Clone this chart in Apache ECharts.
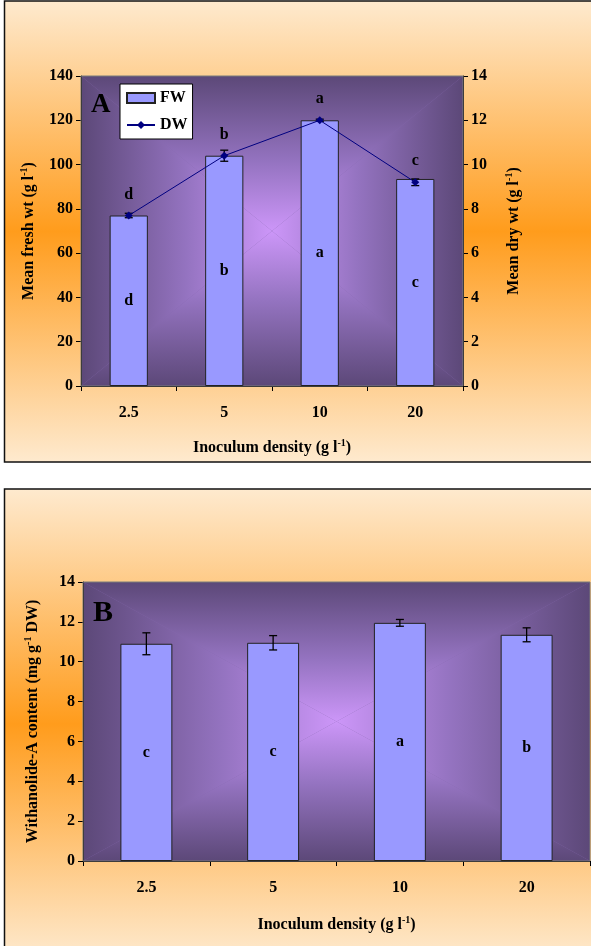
<!DOCTYPE html>
<html>
<head>
<meta charset="utf-8">
<script src="https://cdn.jsdelivr.net/npm/echarts@6/dist/echarts.min.js"></script>
<style>html,body{margin:0;padding:0;background:#fff;}#c{width:591px;height:946px;}</style>
</head>
<body>
<div id="c"></div>
<script>
// ---- data ----
const categories = ['2.5', '5', '10', '20'];
const fwValues = [77, 104, 120, 93.5];
const fwLetters = ['d', 'b', 'a', 'c'];
const dwValues = [7.7, 10.4, 12.0, 9.2];
const dwErrors = [0.1, 0.25, 0.05, 0.15];
const dwLetters = ['d', 'b', 'a', 'c'];
const withaValues = [10.9, 10.95, 11.95, 11.35];
const withaErrors = [0.55, 0.36, 0.17, 0.35];
const withaLetters = ['c', 'c', 'a', 'b'];
const fwAxis = { min: 0, max: 140, interval: 20 };
const dwAxis = { min: 0, max: 14, interval: 2 };
const withaAxis = { min: 0, max: 14, interval: 2 };

// ---- layout / style ----
const FONT = "'Liberation Serif', 'Times New Roman', serif";
const gA = { left: 81, top: 76, width: 382, height: 310 };
const gB = { left: 83, top: 582, width: 507, height: 279 };
const edgeC = '#5c4878', midC = '#9473c0', centerC = '#cc96f8';
const orangeLight = '#feeacf', orangeMid = '#ff9c1c';

function lg(x0, y0, x2, y2) {
  return { type: 'linear', x: x0, y: y0, x2: x2, y2: y2, colorStops: [
    { offset: 0, color: edgeC }, { offset: 0.55, color: midC }, { offset: 1, color: centerC }] };
}
function plotBg(g) {
  const x0 = g.left, y0 = g.top, x1 = g.left + g.width, y1 = g.top + g.height;
  const cx = (x0 + x1) / 2, cy = (y0 + y1) / 2;
  const base = { type: 'rect', z: -9, silent: true, shape: { x: x0, y: y0, width: g.width, height: g.height }, style: { fill: '#8468ad' } };
  const tri = (pts, grad) => ({ type: 'polygon', z: -8, silent: true, shape: { points: pts }, style: { fill: grad } });
  return [base,
    tri([[x0, y0], [x1, y0], [cx, cy]], lg(0, 0, 0, 1)),
    tri([[x0, y1], [x1, y1], [cx, cy]], lg(0, 1, 0, 0)),
    tri([[x0, y0], [x0, y1], [cx, cy]], lg(0, 0, 1, 0)),
    tri([[x1, y0], [x1, y1], [cx, cy]], lg(1, 0, 0, 0))
  ];
}
function panel(y, h) {
  return { type: 'rect', z: -10, silent: true, shape: { x: 4.5, y: y, width: 620, height: h },
    style: { stroke: '#111', lineWidth: 1.5,
      fill: { type: 'linear', x: 0, y: 0, x2: 0, y2: 1, colorStops: [
        { offset: 0, color: orangeLight }, { offset: 0.5, color: orangeMid }, { offset: 1, color: orangeLight }] } } };
}

const FS = 16;
const txt = { fontFamily: FONT, fontWeight: 'bold', fontSize: FS, color: '#000' };
const rich = {
  a: { fontFamily: FONT, fontWeight: 'bold', fontSize: FS, color: '#000' },
  s: { fontFamily: FONT, fontWeight: 'bold', fontSize: 10, color: '#000', padding: [0, 0, 9, 0] }
};
function sup(pre, s, post) { return '{a|' + pre + '}{s|' + s + '}{a|' + post + '}'; }

function errRender(params, api) {
  const x = api.value(0);
  const lo = api.coord([x, api.value(1)]);
  const hi = api.coord([x, api.value(2)]);
  const w = 4;
  const st = { stroke: '#000', lineWidth: 1.3 };
  return { type: 'group', children: [
    { type: 'line', shape: { x1: lo[0], y1: lo[1], x2: hi[0], y2: hi[1] }, style: st },
    { type: 'line', shape: { x1: lo[0] - w, y1: lo[1], x2: lo[0] + w, y2: lo[1] }, style: st },
    { type: 'line', shape: { x1: hi[0] - w, y1: hi[1], x2: hi[0] + w, y2: hi[1] }, style: st }
  ] };
}

const axisLineBlack = { show: true, lineStyle: { color: '#000', width: 1 } };
const tickOut = { show: true, inside: false, length: 5, lineStyle: { color: '#000', width: 1 } };

function xAx(gridIndex, gap) {
  return { type: 'category', gridIndex: gridIndex, data: categories, boundaryGap: true,
    axisLine: axisLineBlack, axisTick: tickOut, axisLabel: Object.assign({ margin: 19 }, txt),
    name: sup('Inoculum density (g l', '-1', ')'), nameLocation: 'middle', nameGap: gap,
    nameTextStyle: { rich: rich } };
}
function yAx(gridIndex, ax, pos, name, gap) {
  return { type: 'value', gridIndex: gridIndex, position: pos, min: ax.min, max: ax.max, interval: ax.interval,
    axisLine: axisLineBlack, axisTick: tickOut, splitLine: { show: false },
    axisLabel: Object.assign({ margin: 8 }, txt),
    name: name, nameLocation: 'middle', nameRotate: 90, nameGap: gap, nameTextStyle: { rich: rich } };
}

const errDW = dwValues.map((v, i) => [i, v - dwErrors[i], v + dwErrors[i]]);
const errW = withaValues.map((v, i) => [i, v - withaErrors[i], v + withaErrors[i]]);

const option = {
  animation: false,
  backgroundColor: '#fff',
  textStyle: { fontFamily: FONT },
  grid: [
    Object.assign({ show: true, borderColor: '#7a7a7a', borderWidth: 1, backgroundColor: 'transparent', z: 1 }, gA),
    Object.assign({ show: true, borderColor: '#7a7a7a', borderWidth: 1, backgroundColor: 'transparent', z: 1 }, gB)
  ],
  legend: {
    data: [{ name: 'FW', icon: 'rect' }, { name: 'DW' }], orient: 'vertical', left: 120, top: 84,
    backgroundColor: '#fff', borderColor: '#000', borderWidth: 1, borderRadius: 0,
    padding: [6, 5, 6, 6], itemWidth: 28, itemHeight: 10, itemGap: 11,
    textStyle: { fontFamily: FONT, fontWeight: 'bold', fontSize: 16, color: '#000' }
  },
  xAxis: [xAx(0, 52), xAx(1, 54)],
  yAxis: [
    yAx(0, fwAxis, 'left', sup('Mean fresh wt (g l', '-1', ')'), 43),
    yAx(0, dwAxis, 'right', sup('Mean dry wt (g l', '-1', ')'), 41),
    yAx(1, withaAxis, 'left', sup('Withanolide-A content (mg g', '-1', ' DW)'), 41)
  ],
  series: [
    { name: 'FW', type: 'bar', xAxisIndex: 0, yAxisIndex: 0, data: fwValues, barWidth: '40%',
      itemStyle: { color: '#9999ff', borderColor: '#222', borderWidth: 1 },
      label: { show: true, position: 'inside', formatter: p => fwLetters[p.dataIndex], ...txt } },
    { name: 'DWerr', type: 'custom', xAxisIndex: 0, yAxisIndex: 1, data: errDW, renderItem: errRender, z: 3 },
    { name: 'DW', type: 'line', xAxisIndex: 0, yAxisIndex: 1, data: dwValues, z: 4,
      symbol: 'diamond', symbolSize: 8, itemStyle: { color: '#000080' }, lineStyle: { color: '#000080', width: 1 },
      label: { show: true, position: 'top', distance: 9, formatter: p => dwLetters[p.dataIndex], ...txt } },
    { name: 'Withanolide-A', type: 'bar', xAxisIndex: 1, yAxisIndex: 2, data: withaValues, barWidth: '41%',
      itemStyle: { color: '#9999ff', borderColor: '#222', borderWidth: 1 },
      label: { show: true, position: 'inside', formatter: p => withaLetters[p.dataIndex], ...txt } },
    { name: 'Werr', type: 'custom', xAxisIndex: 1, yAxisIndex: 2, data: errW, renderItem: errRender, z: 3 }
  ],
  graphic: [
    panel(1, 461), panel(489, 470)
  ].concat(plotBg(gA), plotBg(gB), [
    { type: 'text', z: 5, left: 91, top: 92, style: { text: 'A', font: 'bold 27px ' + FONT, fill: '#000' } },
    { type: 'text', z: 5, left: 93, top: 598, style: { text: 'B', font: 'bold 30px ' + FONT, fill: '#000' } }
  ])
};
const chart = echarts.init(document.getElementById('c'), null, { renderer: 'canvas' });
chart.setOption(option);
</script>
</body>
</html>
